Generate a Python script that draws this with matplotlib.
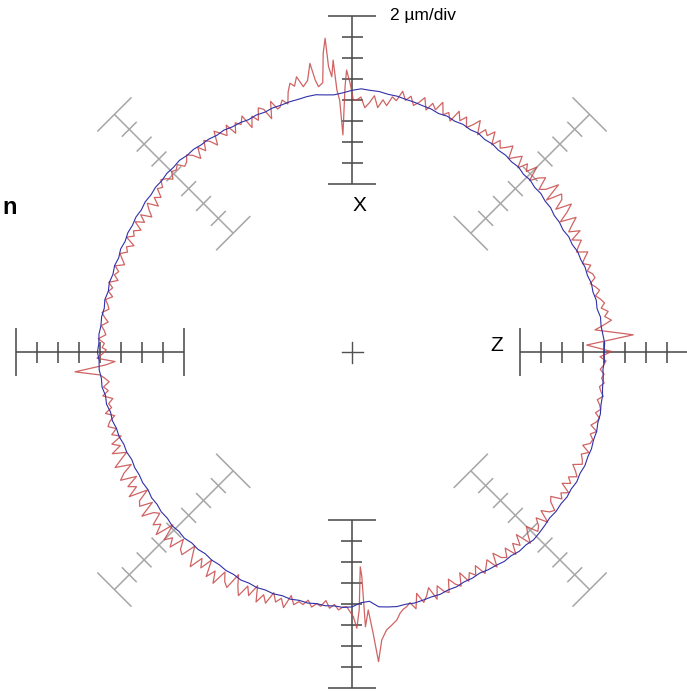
import numpy as np
import matplotlib
matplotlib.use('Agg')
import matplotlib.pyplot as plt

plt.rcParams['font.family'] = ['Liberation Sans', 'DejaVu Sans']

# radial deviation from the reference circle, in um (angle 0 = Z axis, 90 = X axis)
red_dev = [
    0.7, -1.6, 2.8, -0.8, 0.3, 0.0, 0.2, 0.9, 0.3, 0.7,
    0.1, 0.5, 0.2, -0.2, 0.3, 0.0, -0.4, 0.2, 0.1, -0.3,
    0.2, -0.5, -0.1, 0.4, -0.6, -0.2, 0.3, -0.5, 0.6, -0.4,
    0.2, 0.9, -0.6, 0.4, 1.2, -0.3, 0.7, 1.0, -0.5, 1.3,
    0.1, -0.4, 0.8, 0.3, -0.5, 0.9, -0.1, 0.5, -0.4, 0.7,
    0.2, -0.3, 0.9, 0.4, 0.0, 0.6, -0.2, 1.0, 0.3, 0.7,
    -0.1, 1.2, 0.5, 0.0, 0.9, 0.3, 1.1, -0.1, 0.6, 0.2,
    1.3, 0.4, 0.9, 0.1, 1.2, 0.6, 0.2, 1.0, 0.5, 1.3,
    0.3, 0.6, -0.3, 0.2, -0.6, 0.5, -0.2, -0.7, 0.3, 0.0,
    1.6, 1.3, -3.3, 1.0, 2.3, 4.6, 1.8, 2.1, 3.8, 2.2,
    1.7, 2.7, 1.9, 2.3, 0.4, 0.9, 0.3, 0.2, 1.1, -0.5,
    0.6, 0.9, -0.2, 0.4, -0.6, 0.8, 0.1, 0.5, -0.4, 0.7,
    -0.2, 0.3, 0.8, -0.5, 0.2, 0.6, -0.3, 0.4, -0.6, 0.1,
    0.5, 0.0, -0.2, 0.4, 0.1, 0.3, -0.3, 0.2, 0.5, -0.1,
    0.2, -0.6, -0.1, -0.9, 0.1, -0.4, -1.0, 0.0, -0.7, 0.1,
    -0.8, -0.2, -0.5, 0.1, -0.9, -0.3, -0.6, 0.0, -0.4, -0.8,
    0.0, -0.5, -0.2, -0.7, 0.1, -0.4, -0.1, -0.6, 0.0, -0.3,
    -0.5, 0.1, -0.2, -0.6, 0.0, -0.3, -0.5, 0.2, -0.4, -0.2,
    -0.2, 0.3, -1.4, -0.5, 2.4, 0.1, -0.3, -0.7, -0.1, -0.5,
    0.1, -0.8, -0.3, -0.5, 0.2, -0.6, 0.0, 0.3, -0.4, 0.2,
    -0.6, 0.5, -0.2, 0.8, -0.5, 0.3, 1.1, -0.4, 0.6, 1.2,
    -0.3, 0.9, 0.2, 1.3, -0.5, 0.7, 1.0, -0.2, 1.4, 0.3,
    -0.1, 1.1, 0.5, 1.5, -0.3, 1.3, 0.6, 1.4, 0.0, 0.9,
    1.2, -0.2, 0.7, 1.6, 0.3, 1.1, -0.1, 1.5, 0.6, 1.7,
    0.2, 1.0, 1.4, -0.2, 0.8, 1.6, 0.4, 1.2, 0.0, 1.5,
    0.6, 1.3, 0.1, 0.9, 0.4, 1.2, -0.1, 0.7, 0.3, 0.5,
    0.0, 0.6, 0.2, 0.4, -0.2, 0.5, 0.1, 0.6, 0.3, 0.3,
    1.2, 2.3, -3.5, 0.6, 2.9, 5.6, 3.6, 2.7, 2.3, 1.9,
    1.3, 1.0, 0.8, 0.5, 1.2, -0.2, 0.8, 0.3, -0.4, 0.9,
    -0.3, 0.4, 0.7, -0.5, 0.2, 0.6, -0.6, 0.5, -0.2, 0.3,
    -0.5, 0.6, 0.1, -0.4, 0.7, -0.6, 0.2, 0.5, -0.3, 0.8,
    -0.2, 0.4, -0.6, 0.9, 0.1, -0.5, 0.6, 0.3, -0.4, 0.7,
    -0.5, 0.2, 0.5, -0.3, -0.6, 0.4, 0.0, 0.6, -0.4, 0.3,
    -0.2, 0.5, 0.1, -0.4, 0.4, 0.2, -0.1, 0.5, -0.3, 0.3,
    0.4, 0.0, 0.5, -0.2, 0.2, 0.4, -0.1, 0.3, 0.1, -0.2,
    0.3, 0.0, -0.2, 0.2, -0.1, 0.1, -0.3, 0.0, 0.2, -0.4,
]
red_step = 1.0

# finer samples where the red trace jumps at the four axes
right_ang = [-1.1, 0.1, 1.7, 3.5, 5.2, 6.0]
right_dev = [-0.38, 0.73, -1.64, 2.84, -0.76, 0.0]
top_ang = [89.7, 90.4, 91.1, 91.5, 92.4, 92.8, 93.3, 93.7, 94.2, 94.7, 94.9, 95.5,
           96.2, 97.2, 97.7, 98.3, 99.3, 100.4, 101.4, 102.2, 103.0, 103.8, 104.5,
           105.5, 106.4]
top_dev = [0.0, 1.59, 2.86, 1.28, -3.3, 0.0, 0.99, 3.86, 2.29, 3.27, 5.99, 4.6,
           1.8, 1.47, 2.14, 3.78, 2.2, 1.69, 2.74, 1.9, 2.27, 1.5, 0.4,
           0.9, 0.3]
left_ang = [179.5, 180.5, 181.4, 182.3, 183.0, 184.1, 185.2, 186.0]
left_dev = [-0.6, -0.2, 0.3, -1.41, -0.5, 2.45, 0.1, -0.3]
bottom_ang = [268.8, 270.3, 271.0, 271.6, 272.2, 272.5, 272.8, 273.6, 274.3, 274.9,
              275.9, 277.1, 278.3, 279.5, 280.4, 281.2, 282.1]
bottom_dev = [0.26, 1.21, 2.31, 0.57, -3.53, -2.6, 2.2, 0.62, 2.86, 5.6,
              3.57, 2.67, 2.28, 1.88, 1.31, 1.0, 0.81]

blue_dev = [
    0.00, 0.08, -0.05, -0.15, -0.10, -0.30, -0.22, -0.35, -0.28, -0.42,
    -0.38, -0.50, -0.48, -0.66, -0.62, -0.78, -0.70, -0.76, -0.62, -0.66,
    -0.52, -0.58, -0.42, -0.48, -0.30, -0.36, -0.22, -0.26, -0.10, -0.14,
    0.06, -0.02, 0.12, 0.06, 0.22, 0.16, 0.34, 0.40, 0.52, 0.60,
    0.74, 0.78, 0.94, 0.98, 1.08, 0.92, 0.70, 0.55, 0.62, 0.74,
    0.70, 0.60, 0.56, 0.46, 0.44, 0.30, 0.34, 0.22, 0.30, 0.28,
    0.40, 0.32, 0.44, 0.40, 0.50, 0.44, 0.56, 0.46, 0.50, 0.38,
    0.42, 0.30, 0.34, 0.20, 0.26, 0.14, 0.18, 0.04, 0.12, -0.04,
    0.06, -0.06, 0.04, -0.08, 0.06, -0.04, 0.08, 0.04, 0.16, 0.12,
    0.24, 0.10, 0.14, 0.00, 0.04, -0.16, -0.10, -0.30, -0.26, -0.42,
    -0.40, -0.56, -0.52, -0.66, -0.56, -0.60, -0.50, -0.56, -0.40, -0.44,
    -0.30, -0.34, -0.18, -0.26, -0.14, -0.26, -0.16, -0.24, -0.10, -0.12,
    0.02, 0.00, 0.16, 0.10, 0.20, 0.12, 0.22, 0.14, 0.26, 0.18,
    0.28, 0.20, 0.30, 0.24, 0.34, 0.28, -0.10, -0.20, 0.40, 0.52,
    0.62, 0.56, 0.64, 0.58, 0.52, 0.56, 0.44, 0.48, 0.36, 0.40,
    0.32, 0.46, 0.52, 0.66, 0.62, 0.78, 0.74, 0.88, 0.80, 0.70,
    0.58, 0.66, 0.60, 0.70, 0.62, 0.72, 0.60, 0.68, 0.58, 0.60,
    0.48, 0.50, 0.36, 0.38, 0.24, 0.22, 0.10, 0.06, -0.04, 0.04,
]
blue_step = 2.0

R0 = 24.0          # reference circle radius in plot units (1 unit = 1 um of deviation)
DIV = 2.0          # um per division
NDIV = 8


def merge_trace(step, dev, bursts):
    ang = np.arange(len(dev)) * step
    dev = np.asarray(dev, float)
    keep = np.ones(len(ang), bool)
    extra_a, extra_d = [], []
    for a, d in bursts:
        lo, hi = min(a) - 0.4, max(a) + 0.4
        keep &= ~(((ang - lo) % 360) <= (hi - lo))
        extra_a += list(a)
        extra_d += list(d)
    a_all = np.concatenate([ang[keep], np.array(extra_a) % 360])
    d_all = np.concatenate([dev[keep], extra_d])
    order = np.argsort(a_all)
    a_all, d_all = a_all[order], d_all[order]
    a_all = np.append(a_all, a_all[0])
    d_all = np.append(d_all, d_all[0])
    t = np.radians(a_all)
    r = R0 + d_all
    return r * np.cos(t), r * np.sin(t)


def draw_scale(ax, ang_deg, color):
    t = np.radians(ang_deg)
    u = np.array([np.cos(t), np.sin(t)])
    v = np.array([-np.sin(t), np.cos(t)])
    r_in, r_out = R0 - DIV * NDIV / 2, R0 + DIV * NDIV / 2
    p0, p1 = r_in * u, r_out * u
    ax.plot([p0[0], p1[0]], [p0[1], p1[1]], color=color, lw=1.1, solid_capstyle='butt')
    for k in range(NDIV + 1):
        r = r_in + k * DIV
        half = 2.3 if k in (0, NDIV) else 1.0
        a, b = r * u - half * v, r * u + half * v
        ax.plot([a[0], b[0]], [a[1], b[1]], color=color, lw=1.1, solid_capstyle='butt')


fig = plt.figure(figsize=(6.87, 6.91), dpi=100)
ax = fig.add_axes([0, 0, 1, 1])
ax.set_xlim(-352 / 10.5, 335 / 10.5)
ax.set_ylim(-339 / 10.5, 352 / 10.5)
ax.set_aspect('equal')
ax.axis('off')

for a in range(0, 360, 45):
    draw_scale(ax, a, '#454545' if a % 90 == 0 else '#a6a6a6')

# centre cross
ax.plot([-1, 1], [0, 0], color='#505050', lw=1.0)
ax.plot([0, 0], [-1, 1], color='#505050', lw=1.0)

rx, ry = merge_trace(red_step, red_dev,
                     [(right_ang, right_dev), (top_ang, top_dev),
                      (left_ang, left_dev), (bottom_ang, bottom_dev)])
bx, by = merge_trace(blue_step, blue_dev, [])
ax.plot(rx, ry, color='#c84848', lw=0.9, alpha=0.85, zorder=3)
ax.plot(bx, by, color='#3030a8', lw=0.8, zorder=4)

ax.text(0.568, 0.978, '2 \u00b5m/div', transform=ax.transAxes, fontsize=12.5,
        ha='left', va='center')
ax.text(0.5226, 0.702, 'X', transform=ax.transAxes, fontsize=15, ha='center', va='center')
ax.text(0.7234, 0.5007, 'Z', transform=ax.transAxes, fontsize=15, ha='center', va='center')
ax.text(0.004, 0.70, 'n', transform=ax.transAxes, fontsize=17, fontweight='bold',
        ha='left', va='center')

fig.savefig('out.png', dpi=100)
